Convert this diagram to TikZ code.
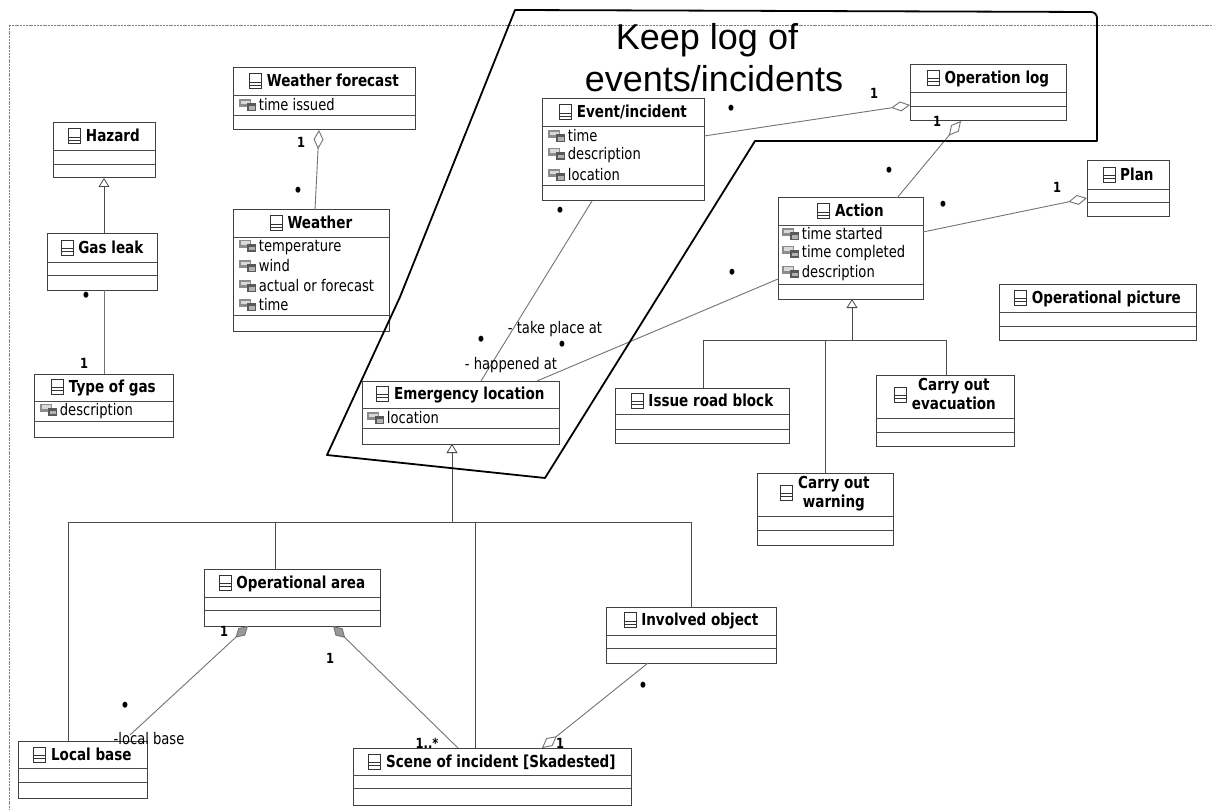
\documentclass[tikz,border=0pt]{standalone}
\usepackage{fontspec}
\setmainfont{DejaVu Sans}[FakeStretch=0.82]
\newfontfamily\bannerfont{Liberation Sans}
\usetikzlibrary{arrows.meta,calc}

% small glyphs used inside the class boxes
\newcommand{\clsicon}{\tikz[x=1pt,y=1pt,baseline={([yshift=-5.5pt]current bounding box.center)}]{%
  \draw[line width=1pt,black!80] (0,0) rectangle (12,15);
  \draw[line width=0.8pt,black!80] (0,4) -- (12,4) (0,7) -- (12,7);}}
\newcommand{\attricon}{\tikz[x=1pt,y=1pt,baseline=0.5pt]{%
  \fill[black!45] (0,4) rectangle (12,12);
  \fill[black!15] (1.5,7) rectangle (10.5,10.5);
  \fill[black!65] (8,0) rectangle (17,8);
  \fill[black!30] (9.5,1.5) rectangle (15.5,5);}}

\tikzset{
  clsbox/.style={draw=black!75, line width=1pt, fill=white, inner sep=0pt, outer sep=0pt},
  clssep/.style={draw=black!70, line width=0.9pt},
  clstitle/.style={font=\fontsize{16.5}{18.5}\selectfont\bfseries, inner sep=1pt, align=center},
  clsattr/.style={font=\fontsize{16}{18}\selectfont, inner sep=1pt},
  mult/.style={font=\fontsize{14}{15}\selectfont\bfseries, inner sep=0.5pt},
  manydot/.style={font=\fontsize{17}{18}\selectfont\bfseries, inner sep=0.5pt},
  role/.style={font=\fontsize{16}{18}\selectfont, inner sep=0.5pt},
  assoc/.style={draw=black!55, line width=0.9pt},
  genline/.style={draw=black!70, line width=0.8pt},
  gen/.style={genline, -{Triangle[open, length=9pt, width=11pt, fill=white]}},
  agg/.style={assoc, {Diamond[open, length=19pt, width=10pt, fill=white]}-},
  comp/.style={assoc, {Diamond[length=17pt, width=10pt, fill=black!40]}-},
  banner/.style={draw=black, line width=1.8pt, line join=round},
  pageframe/.style={draw=black!50, line width=0.7pt, dash pattern=on 2pt off 0.8pt},
}

% class box: id, x1, y1, x2, y2, first separator, second separator, title
\newcommand{\umlclass}[8]{%
  \pgfmathsetmacro{\ucW}{#4-#2}\pgfmathsetmacro{\ucH}{#5-#3}%
  \node[clsbox, minimum width=\ucW pt, minimum height=\ucH pt, anchor=north west] (#1) at (#2,#3) {};
  \draw[clssep] (#2,#6) -- (#4,#6) (#2,#7) -- (#4,#7);
  \pgfmathsetmacro{\ucX}{(#2+#4)/2}\pgfmathsetmacro{\ucY}{(#3+#6)/2}%
  \node[clstitle] (#1-title) at (\ucX,\ucY) {#8};
}
% attribute line: id, x, y, text
\newcommand{\umlattr}[4]{\node[clsattr, anchor=west] (#1) at (#2,#3) {\attricon\,#4};}

\begin{document}
\begin{tikzpicture}[x=1pt,y=-1pt]
\useasboundingbox (0,0) rectangle (1212,810);
\fill[white] (0,0) rectangle (1212,810);

% page frame
\draw[pageframe] (9,25) -- (1212,25);
\draw[pageframe] (9,25) -- (9,810);

% classes
\umlclass{wforecast}{233}{68}{415}{130}{95}{115}{\clsicon\ Weather forecast}
\umlattr{wforecast-a1}{238}{105}{time issued}

\umlclass{hazard}{53}{123}{155}{178}{150}{164}{\clsicon\ Hazard}
\umlclass{gasleak}{47}{234}{157}{290}{262}{275}{\clsicon\ Gas leak}

\umlclass{weather}{233}{210}{389}{331}{237}{315}{\clsicon\ Weather}
\umlattr{weather-a1}{238}{247}{temperature}
\umlattr{weather-a2}{238}{266}{wind}
\umlattr{weather-a3}{238}{286}{actual or forecast}
\umlattr{weather-a4}{238}{305}{time}

\umlclass{gastype}{34}{374}{173}{437}{401}{421}{\clsicon\ Type of gas}
\umlattr{gastype-a1}{39}{411}{description}

\umlclass{event}{542}{99}{704}{201}{126}{185}{\clsicon\ Event/incident}
\umlattr{event-a1}{547}{136}{time}
\umlattr{event-a2}{547}{155}{description}
\umlattr{event-a3}{547}{175}{location}

\umlclass{oplog}{910}{65}{1066}{121}{92}{106}{\clsicon\ Operation log}
\umlclass{plan}{1087}{161}{1169}{217}{189}{202}{\clsicon\ Plan}

\umlclass{action}{778}{198}{923}{299}{225}{284}{\clsicon\ Action}
\umlattr{action-a1}{781}{234}{time started}
\umlattr{action-a2}{781}{253}{time completed}
\umlattr{action-a3}{781}{273}{description}

\umlclass{oppicture}{999}{284}{1196}{340}{312}{326}{\clsicon\ Operational picture}

\umlclass{emloc}{362}{381}{559}{444}{408}{428}{\clsicon\ Emergency location}
\umlattr{emloc-a1}{366}{418}{location}

\umlclass{roadblock}{615}{388}{789}{443}{414}{429}{\clsicon\ Issue road block}
\umlclass{evac}{876}{375}{1014}{446}{418}{432}{\clsicon\ \begin{tabular}{@{}c@{}}Carry out\\evacuation\end{tabular}}
\umlclass{warning}{757}{473}{893}{545}{516}{530}{\clsicon\ \begin{tabular}{@{}c@{}}Carry out\\warning\end{tabular}}

\umlclass{oparea}{204}{569}{380}{626}{597}{610}{\clsicon\ Operational area}
\umlclass{localbase}{18}{741}{147}{798}{768}{782}{\clsicon\ Local base}
\umlclass{scene}{353}{748}{631}{805}{775}{788}{\clsicon\ Scene of incident [Skadested]}
\umlclass{involved}{606}{607}{776}{663}{635}{648}{\clsicon\ Involved object}

% generalizations
\draw[gen] ([xshift=57pt]gasleak.north west) -- ([xshift=51pt]hazard.south west);

\coordinate (emj) at (452,522);
\coordinate (lbT) at ([xshift=50pt]localbase.north west);
\coordinate (oaT) at ([xshift=71pt]oparea.north west);
\coordinate (scT) at ([xshift=122pt]scene.north west);
\coordinate (ioT) at ([xshift=85pt]involved.north west);
\draw[genline] (lbT) -- (lbT |- emj) -- (ioT |- emj) -- (ioT);
\draw[genline] (oaT) -- (oaT |- emj);
\draw[genline] (scT) -- (scT |- emj);
\draw[gen] (emj) -- ([xshift=90pt]emloc.south west);

\coordinate (acj) at (852,340);
\coordinate (rbT) at ([xshift=88pt]roadblock.north west);
\coordinate (wnT) at ([xshift=68pt]warning.north west);
\coordinate (evT) at ([xshift=70pt]evac.north west);
\draw[genline] (rbT) -- (rbT |- acj) -- (evT |- acj) -- (evT);
\draw[genline] (wnT) -- (wnT |- acj);
\draw[gen] (acj) -- ([xshift=74pt]action.south west);

% associations
\draw[assoc] ([xshift=57pt]gasleak.south west) -- ([xshift=70pt]gastype.north west);
\draw[agg] ([xshift=86pt]wforecast.south west) -- ([xshift=82pt]weather.north west);
\draw[agg] ([yshift=-40pt]oplog.north west) -- ([yshift=-37pt]event.north east);
\draw[agg] ([xshift=51pt]oplog.south west) -- ([xshift=119pt]action.north west);
\draw[agg] ([yshift=-37pt]plan.north west) -- ([yshift=-34pt]action.north east);
\draw[assoc] ([xshift=50pt]event.south west) -- ([xshift=119pt]emloc.north west);
\draw[assoc] ([yshift=-81pt]action.north west) -- ([xshift=175pt]emloc.north west);
\draw[comp] ([xshift=44pt]oparea.south west) -- ([xshift=112pt,yshift=6pt]localbase.north west);
\draw[comp] ([xshift=129pt]oparea.south west) -- ([xshift=105pt]scene.north west);
\draw[agg] ([xshift=189pt]scene.north west) -- ([xshift=42pt]involved.south west);

% multiplicities and role names
\node[manydot] (m-gl) at (86,297) {•};
\node[mult] (m-tg) at (84,363) {1};
\node[mult] (m-wf) at (301,142) {1};
\node[manydot] (m-we) at (298,192) {•};
\node[mult] (m-ol1) at (874,93) {1};
\node[manydot] (m-ev1) at (731,110) {•};
\node[mult] (m-ol2) at (937,121) {1};
\node[manydot] (m-ac1) at (889,172) {•};
\node[mult] (m-pl) at (1057,187) {1};
\node[manydot] (m-ac2) at (943,206) {•};
\node[manydot] (m-ev2) at (560,212) {•};
\node[manydot] (m-el1) at (481,341) {•};
\node[role] (r-take) at (555,329) {- take place at};
\node[manydot] (m-ac3) at (732,274) {•};
\node[manydot] (m-el2) at (562,346) {•};
\node[role] (r-happ) at (511,365) {- happened at};
\node[mult] (m-oa1) at (224,631) {1};
\node[manydot] (m-lb) at (125,707) {•};
\node[role] (r-lb) at (149,739) {-local base};
\node[mult] (m-oa2) at (330,658) {1};
\node[mult] (m-sc1) at (427,743) {1..*};
\node[manydot] (m-io) at (643,687) {•};
\node[mult] (m-sc2) at (560,743) {1};

% hand-drawn outline around the logging part
\draw[banner] (515,10) -- (1091,12) to[out=0,in=90] (1097,18) -- (1097,141) -- (755,141)
  -- (545,478) -- (327,455) -- (400,297) -- cycle;
\node[font=\bannerfont\fontsize{36}{40}\selectfont, anchor=base, inner sep=0pt] (banner-l1) at (707,50) {Keep log of};
\node[font=\bannerfont\fontsize{36}{40}\selectfont, anchor=base, inner sep=0pt] (banner-l2) at (714,92) {events/incidents};
\end{tikzpicture}
\end{document}
